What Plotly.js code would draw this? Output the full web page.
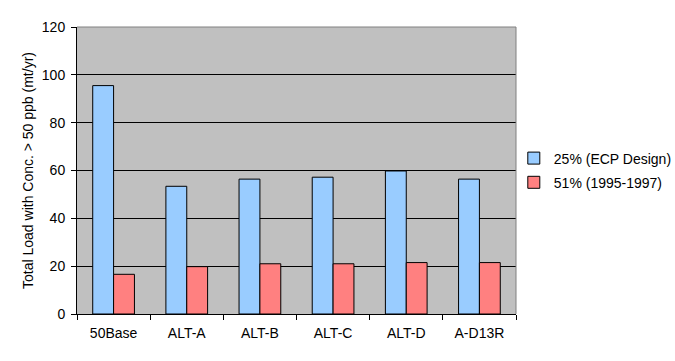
<!DOCTYPE html>
<html>
<head>
<meta charset="utf-8">
<script src="https://cdn.plot.ly/plotly-3.0.1.min.js"></script>
<style>html,body{margin:0;padding:0;background:#fff;}#chart{width:675px;height:361px;}</style>
</head>
<body>
<div id="chart"></div>
<script>
const categories = ["50Base", "ALT-A", "ALT-B", "ALT-C", "ALT-D", "A-D13R"];
const seriesNames = ["25% (ECP Design)", "51% (1995-1997)"];
const ecpDesign = [95.5, 53.4, 56.4, 57.2, 59.8, 56.4];
const period9597 = [16.6, 19.8, 21.0, 21.0, 21.5, 21.5];
const yTicks = [0, 20, 40, 60, 80, 100, 120];

const traces = [
  {type: "bar", x: categories, y: ecpDesign, name: seriesNames[0], legendgroup: "a",
   marker: {color: "#99CCFF", line: {color: "#000", width: 1}}},
  {type: "bar", x: categories, y: period9597, name: seriesNames[1], legendgroup: "b",
   marker: {color: "#FF8080", line: {color: "#000", width: 1}}}
];
const font = {family: "Liberation Sans, Arial, sans-serif", size: 14, color: "#000"};
const layout = {
  width: 675, height: 361,
  margin: {l: 77, r: 159, t: 27, b: 47, autoexpand: false},
  paper_bgcolor: "#fff", plot_bgcolor: "#C0C0C0",
  font: font,
  barmode: "group", bargap: 0.43, bargroupgap: 0,
  showlegend: true,
  legend: {x: 0.995, xanchor: "left", y: 0.50, yanchor: "middle", traceorder: "grouped",
           tracegroupgap: 3, font: font, bgcolor: "rgba(0,0,0,0)", itemwidth: 30},
  xaxis: {showline: true, linecolor: "#000", linewidth: 1, ticks: "outside", ticklen: 5,
          tickson: "boundaries", tickcolor: "#000", showgrid: false, mirror: false,
          ticklabelstandoff: 6},
  yaxis: {range: [0, 120], tickvals: yTicks, showline: true, linecolor: "#000", linewidth: 1,
          ticks: "outside", ticklen: 5, tickcolor: "#000", showgrid: true, gridcolor: "#000",
          gridwidth: 1, zeroline: false, ticklabelstandoff: 3,
          title: {text: "Total Load with Conc. > 50 ppb (mt/yr)", font: font, standoff: 4}},
  shapes: [
    {type: "line", xref: "paper", yref: "paper", x0: 0, x1: 1, y0: 1, y1: 1, line: {color: "#808080", width: 1}},
    {type: "line", xref: "paper", yref: "paper", x0: 1, x1: 1, y0: 0, y1: 1, line: {color: "#808080", width: 1}}
  ]
};
Plotly.newPlot("chart", traces, layout, {displayModeBar: false, staticPlot: true});
</script>
</body>
</html>
